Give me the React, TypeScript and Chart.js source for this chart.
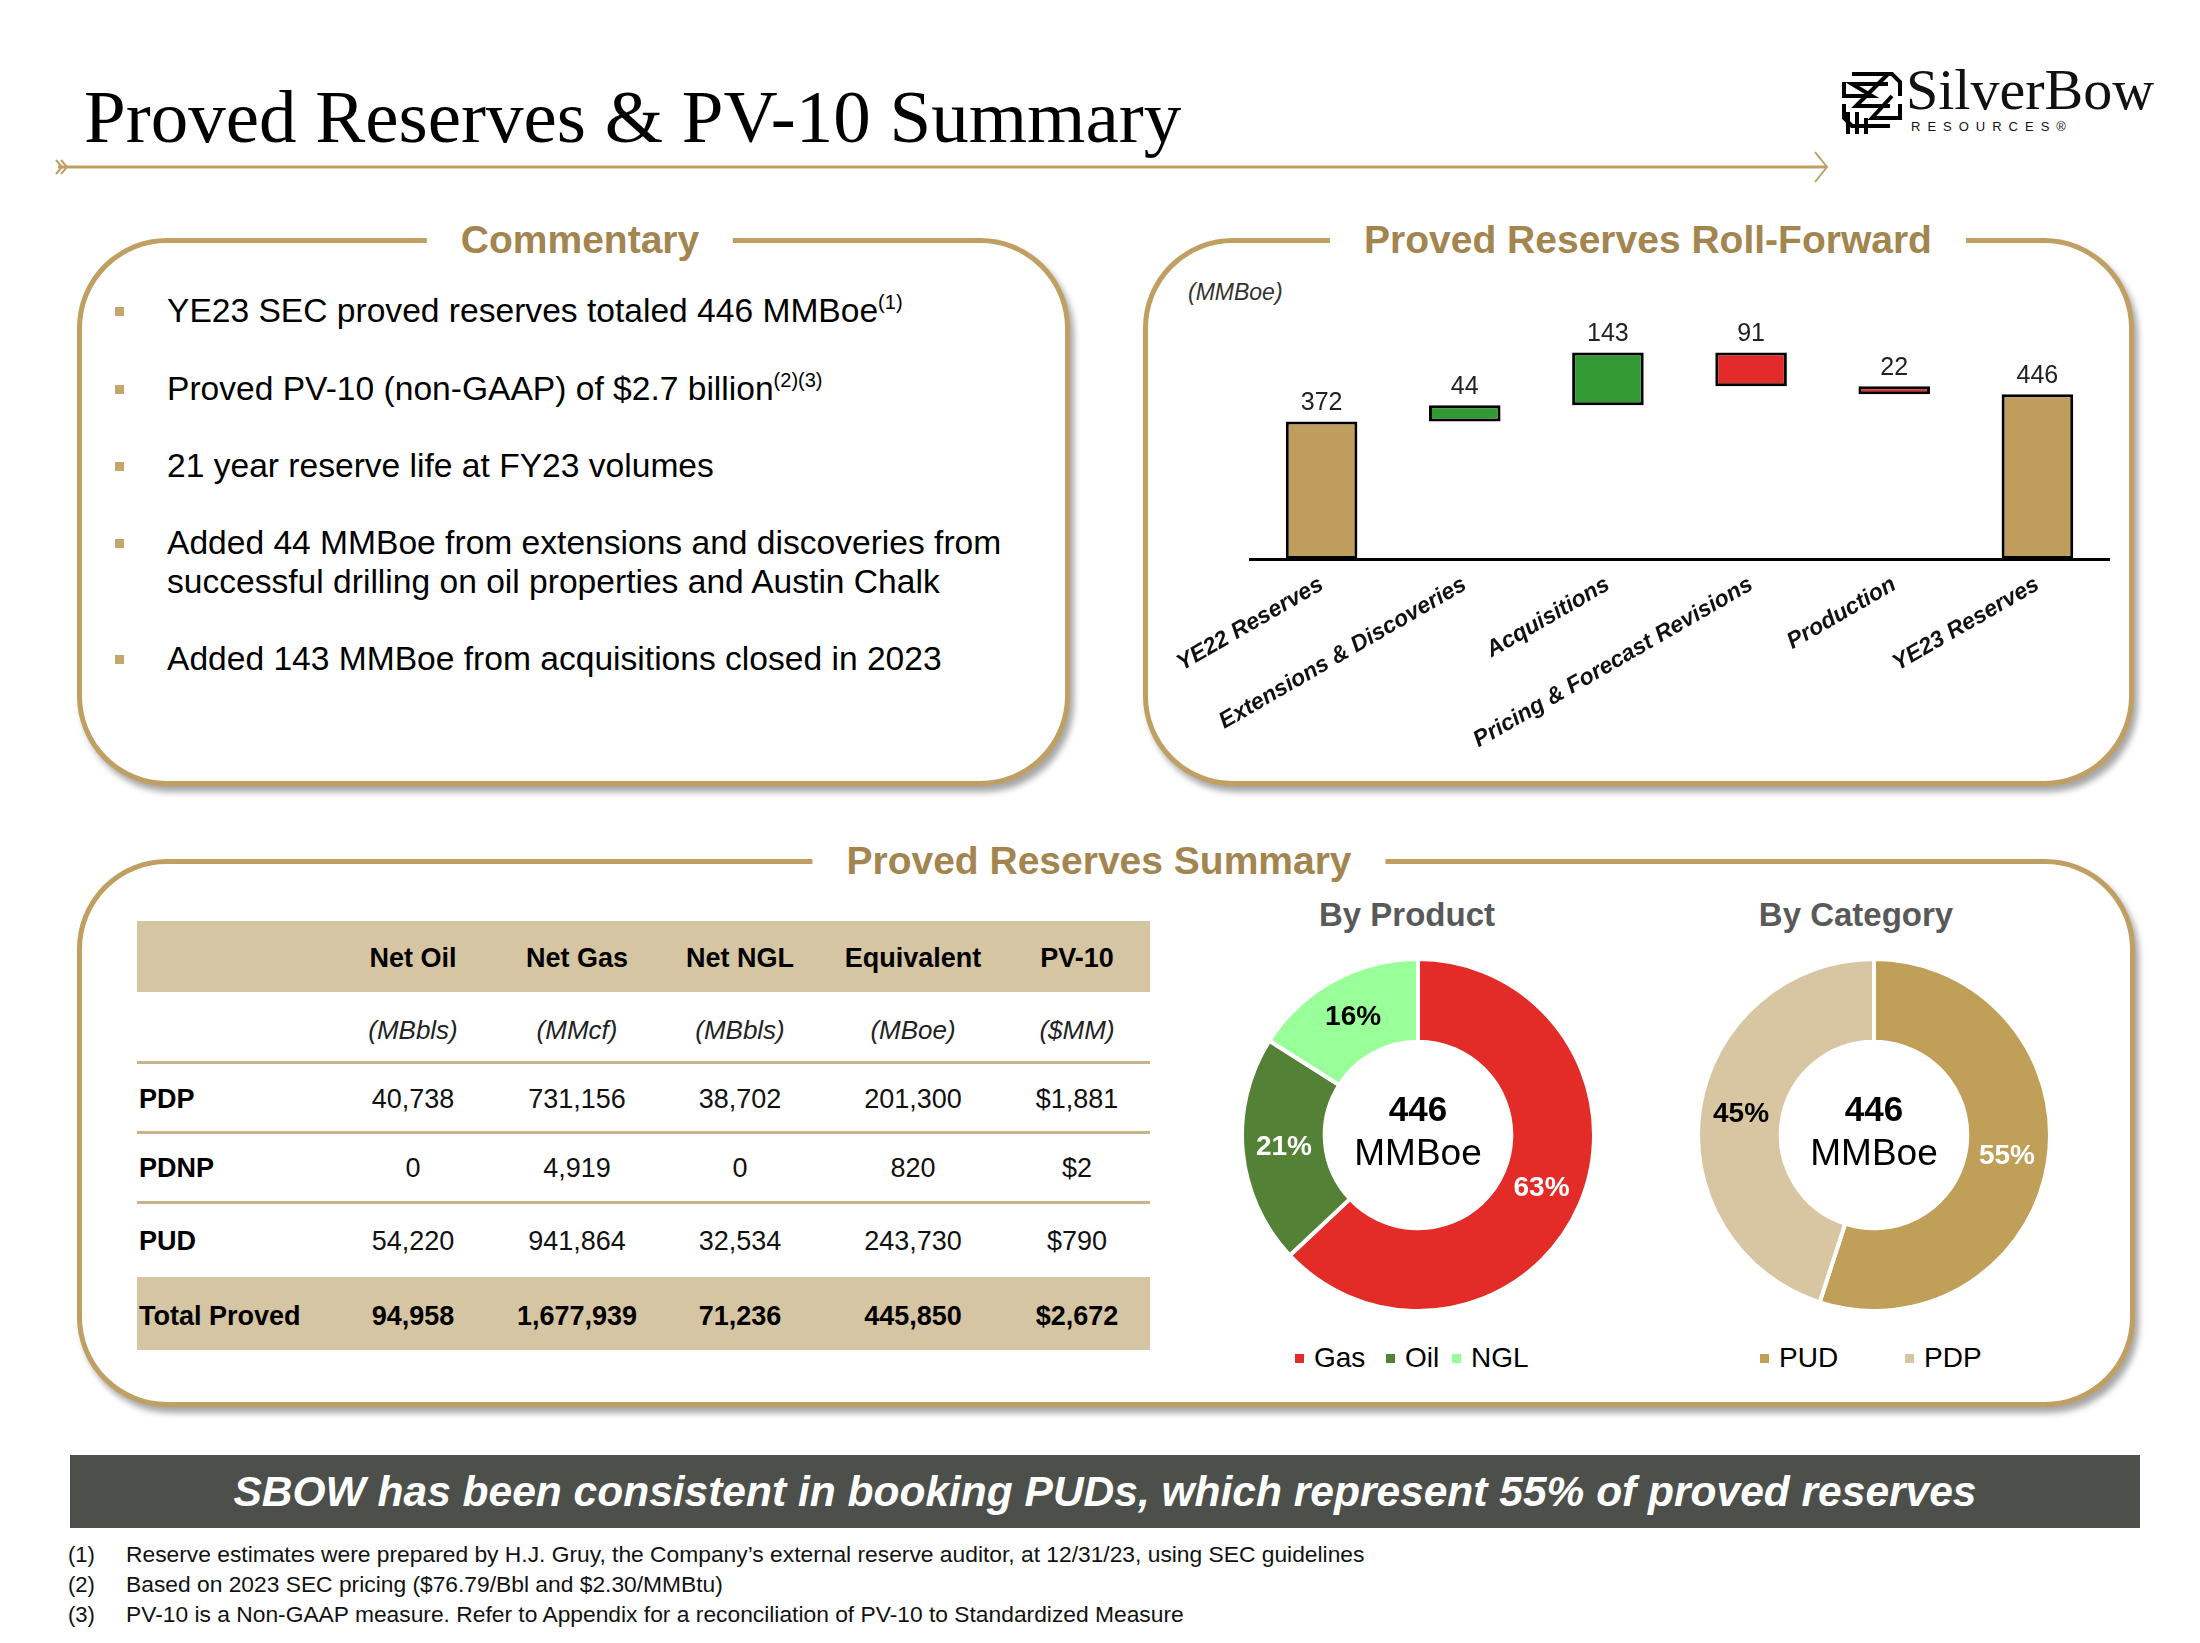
import React, { useEffect, useRef } from "react";
import { Chart, registerables } from "chart.js";

Chart.register(...registerables);

const SANS = '"Liberation Sans", Arial, sans-serif';
const SERIF = '"Liberation Serif", "Times New Roman", serif';
const GOLD = "#C0A062";
const TITLE_GOLD = "#A38550";

// ---------- Roll-forward (waterfall) data ----------
const rollLabels = [
  "YE22 Reserves",
  "Extensions & Discoveries",
  "Acquisitions",
  "Pricing & Forecast Revisions",
  "Production",
  "YE23 Reserves",
];
const rollStart = 372;
const rollChanges = [44, 143, -91, -22];
const rollEnd = 446;
const rollDisplay = ["372", "44", "143", "91", "22", "446"];

// ---------- Donut data ----------
const productLabels = ["Gas", "Oil", "NGL"];
const productShares = [63, 21, 16];
const productColors = ["#E32B27", "#538135", "#99FF99"];
const productLabelColors = ["#FFFFFF", "#FFFFFF", "#000000"];

const categoryLabels = ["PUD", "PDP"];
const categoryShares = [55, 45];
const categoryColors = ["#C09F58", "#D8C6A2"];
const categoryLabelColors = ["#FFFFFF", "#000000"];

const totalMMBoe = "446";

// ---------- Table data ----------
const tableColumns = ["Net Oil", "Net Gas", "Net NGL", "Equivalent", "PV-10"];
const tableUnits = ["(MBbls)", "(MMcf)", "(MBbls)", "(MBoe)", "($MM)"];
const tableRowNames = ["PDP", "PDNP", "PUD"];
const pdpValues = ["40,738", "731,156", "38,702", "201,300", "$1,881"];
const pdnpValues = ["0", "4,919", "0", "820", "$2"];
const pudValues = ["54,220", "941,864", "32,534", "243,730", "$790"];
const totalValues = ["94,958", "1,677,939", "71,236", "445,850", "$2,672"];

const bullets = [
  { text: "YE23 SEC proved reserves totaled 446 MMBoe", sup: "(1)" },
  { text: "Proved PV-10 (non-GAAP) of $2.7 billion", sup: "(2)(3)" },
  { text: "21 year reserve life at FY23 volumes", sup: "" },
  { text: "Added 44 MMBoe from extensions and discoveries from|successful drilling on oil properties and Austin Chalk", sup: "" },
  { text: "Added 143 MMBoe from acquisitions closed in 2023", sup: "" },
];

const footnotes = [
  "Reserve estimates were prepared by H.J. Gruy, the Company\u2019s external reserve auditor, at 12/31/23, using SEC guidelines",
  "Based on 2023 SEC pricing ($76.79/Bbl and $2.30/MMBtu)",
  "PV-10 is a Non-GAAP measure. Refer to Appendix for a reconciliation of PV-10 to Standardized Measure",
];

function Waterfall() {
  const ref = useRef<HTMLCanvasElement>(null);
  useEffect(() => {
    const floats: number[][] = [];
    const colors: string[] = [];
    floats.push([0, rollStart]);
    colors.push("#BF9D5D");
    let level = rollStart;
    rollChanges.forEach((d) => {
      const next = level + d;
      floats.push([Math.min(level, next), Math.max(level, next)]);
      colors.push(d >= 0 ? "#339933" : "#E32B2B");
      level = next;
    });
    floats.push([0, rollEnd]);
    colors.push("#BF9D5D");

    const labelPlugin = {
      id: "wfLabels",
      afterDatasetsDraw(chart: any) {
        const ctx = chart.ctx;
        const meta = chart.getDatasetMeta(0);
        ctx.save();
        ctx.font = `25px ${SANS}`;
        ctx.fillStyle = "#222";
        ctx.textAlign = "center";
        ctx.textBaseline = "bottom";
        meta.data.forEach((el: any, i: number) => {
          const top = Math.min(el.y, el.base);
          ctx.fillText(rollDisplay[i], el.x, top - 6);
        });
        ctx.restore();
      },
    };

    const chart = new Chart(ref.current!, {
      type: "bar",
      data: {
        labels: rollLabels,
        datasets: [
          {
            data: floats as any,
            backgroundColor: colors,
            borderColor: "#000",
            borderWidth: 3,
            borderSkipped: false,
            barPercentage: 0.5,
            categoryPercentage: 1,
          },
        ],
      },
      options: {
        animation: false,
        responsive: false,
        maintainAspectRatio: false,
        layout: { padding: { left: 120, right: 21, top: 40, bottom: 0 } },
        plugins: { legend: { display: false }, tooltip: { enabled: false } },
        scales: {
          x: {
            grid: { display: false, drawTicks: false },
            border: { display: true, color: "#000", width: 3 },
            ticks: {
              autoSkip: false,
              minRotation: 30,
              maxRotation: 30,
              color: "#111",
              padding: 12,
              font: { family: SANS, size: 23, weight: "bold", style: "italic" },
            },
            afterFit: (s: any) => {
              s.height = 211;
            },
          },
          y: { display: false, min: 0, max: 620 },
        },
      },
      plugins: [labelPlugin],
    });
    return () => chart.destroy();
  }, []);
  return (
    <canvas
      ref={ref}
      width={1000}
      height={480}
      style={{ position: "absolute", left: 1130, top: 290, width: 1000, height: 480 }}
    />
  );
}

function Donut(props: {
  labels: string[];
  shares: number[];
  colors: string[];
  labelColors: string[];
  cx: number;
  cy: number;
}) {
  const ref = useRef<HTMLCanvasElement>(null);
  const size = 356;
  useEffect(() => {
    const plugin = {
      id: "donutLabels",
      afterDatasetsDraw(chart: any) {
        const ctx = chart.ctx;
        const meta = chart.getDatasetMeta(0);
        ctx.save();
        ctx.textAlign = "center";
        ctx.textBaseline = "middle";
        ctx.font = `bold 28px ${SANS}`;
        meta.data.forEach((arc: any, i: number) => {
          const p = arc.tooltipPosition();
          ctx.fillStyle = props.labelColors[i];
          ctx.fillText(props.shares[i] + "%", p.x, p.y);
        });
        const cx = (chart.chartArea.left + chart.chartArea.right) / 2;
        const cy = (chart.chartArea.top + chart.chartArea.bottom) / 2;
        ctx.fillStyle = "#000";
        ctx.font = `bold 35px ${SANS}`;
        ctx.fillText(totalMMBoe, cx, cy - 24);
        ctx.font = `37px ${SANS}`;
        ctx.fillText("MMBoe", cx, cy + 20);
        ctx.restore();
      },
    };
    const chart = new Chart(ref.current!, {
      type: "doughnut",
      data: {
        labels: props.labels,
        datasets: [
          {
            data: props.shares,
            backgroundColor: props.colors,
            borderColor: "#fff",
            borderWidth: 4,
          },
        ],
      },
      options: {
        animation: false,
        responsive: false,
        maintainAspectRatio: false,
        cutout: "53%",
        layout: { padding: 0 },
        plugins: { legend: { display: false }, tooltip: { enabled: false } },
      },
      plugins: [plugin],
    });
    return () => chart.destroy();
  }, []);
  return (
    <canvas
      ref={ref}
      width={size}
      height={size}
      style={{ position: "absolute", left: props.cx - size / 2, top: props.cy - size / 2, width: size, height: size }}
    />
  );
}

function Box(props: { left: number; top: number; right: number; bottom: number; title: string; titleX: number }) {
  const { left, top, right, bottom, title, titleX } = props;
  return (
    <>
      <div
        style={{
          position: "absolute",
          left,
          top,
          width: right - left,
          height: bottom - top,
          boxSizing: "border-box",
          border: `5px solid ${GOLD}`,
          borderRadius: 90,
          boxShadow: "4px 6px 6px rgba(0,0,0,0.35)",
          background: "#fff",
        }}
      />
      <div
        style={{
          position: "absolute",
          left: titleX,
          top: top + 2,
          transform: "translate(-50%, -50%)",
          background: "#fff",
          padding: "0 34px",
          color: TITLE_GOLD,
          fontFamily: SANS,
          fontWeight: "bold",
          fontSize: 39,
          whiteSpace: "nowrap",
          lineHeight: "48px",
        }}
      >
        {title}
      </div>
    </>
  );
}

const colCenters = [413, 577, 740, 913, 1077];

function TableRow(props: { cy: number; name: string; values: string[]; bold?: boolean; italic?: boolean; color?: string }) {
  const { cy, name, values, bold, italic } = props;
  return (
    <>
      <div
        style={{
          position: "absolute",
          left: 139,
          top: cy - 18,
          lineHeight: "36px",
          fontSize: 27,
          fontWeight: "bold",
          color: "#000",
          whiteSpace: "nowrap",
        }}
      >
        {name}
      </div>
      {values.map((v, i) => (
        <div
          key={i}
          style={{
            position: "absolute",
            left: colCenters[i] - 100,
            width: 200,
            top: cy - 18,
            lineHeight: "36px",
            textAlign: "center",
            fontSize: italic ? 26 : 27,
            fontWeight: bold ? "bold" : "normal",
            fontStyle: italic ? "italic" : "normal",
            color: props.color || "#111",
            whiteSpace: "nowrap",
          }}
        >
          {v}
        </div>
      ))}
    </>
  );
}

function LegendItem(props: { color: string; text: string; x: number }) {
  return (
    <div
      style={{
        position: "absolute",
        left: props.x,
        top: 1340,
        height: 36,
        display: "flex",
        alignItems: "center",
        fontSize: 28,
        color: "#000",
        whiteSpace: "nowrap",
      }}
    >
      <span style={{ display: "inline-block", width: 9, height: 9, background: props.color, marginRight: 10 }} />
      {props.text}
    </div>
  );
}

export default function App() {
  return (
    <div
      style={{
        position: "absolute",
        left: 0,
        top: 0,
        width: 2200,
        height: 1643,
        background: "#fff",
        fontFamily: SANS,
        overflow: "hidden",
      }}
    >
      {/* Title */}
      <div
        style={{
          position: "absolute",
          left: 84,
          top: 72,
          fontFamily: SERIF,
          fontSize: 75,
          lineHeight: "90px",
          color: "#000",
          whiteSpace: "nowrap",
        }}
      >
        Proved Reserves &amp; PV-10 Summary
      </div>

      {/* Header rule with chevrons */}
      <svg style={{ position: "absolute", left: 0, top: 0 }} width={2200} height={220}>
        <line x1={58} y1={167} x2={1826} y2={167} stroke={GOLD} strokeWidth={3} />
        <polyline points="56,160 62,167 56,174" fill="none" stroke={GOLD} strokeWidth={2} />
        <polyline points="61,160 67,167 61,174" fill="none" stroke={GOLD} strokeWidth={2} />
        <polyline points="1815,152 1827,167 1815,182" fill="none" stroke={GOLD} strokeWidth={2} />
        {/* logo icon */}
        <g fill="none" stroke="#000" strokeWidth={4} strokeLinejoin="miter">
          <polyline points="1852,74 1892,74 1900,82 1900,96" />
          <polyline points="1844,82 1844,96 1872,96 1852,84 1888,84" />
          <polyline points="1888,74 1856,106 1890,106" />
          <polyline points="1900,104 1900,118 1872,118 1892,96" />
          <polyline points="1844,104 1844,118 1852,126 1890,126" />
          <line x1={1848} y1={112} x2={1848} y2={134} />
          <line x1={1857} y1={112} x2={1857} y2={134} />
          <line x1={1866} y1={118} x2={1866} y2={134} />
        </g>
      </svg>
      <div
        style={{
          position: "absolute",
          left: 1906,
          top: 62,
          fontFamily: SERIF,
          fontSize: 58,
          lineHeight: "56px",
          color: "#111",
          whiteSpace: "nowrap",
        }}
      >
        SilverBow
      </div>
      <div
        style={{
          position: "absolute",
          left: 1911,
          top: 119,
          fontFamily: SANS,
          fontSize: 13,
          letterSpacing: 7,
          lineHeight: "15px",
          color: "#111",
          whiteSpace: "nowrap",
        }}
      >
        RESOURCES®
      </div>

      {/* Boxes */}
      <Box left={77} top={238} right={1070} bottom={786} title="Commentary" titleX={580} />
      <Box left={1143} top={238} right={2134} bottom={786} title="Proved Reserves Roll-Forward" titleX={1648} />
      <Box left={77} top={859} right={2135} bottom={1407} title="Proved Reserves Summary" titleX={1099} />

      {/* Commentary bullets */}
      {bullets.map((b, i) => {
        const centers = [311, 389, 466, 543, 659];
        const lines = b.text.split("|");
        return (
          <React.Fragment key={i}>
            <div
              style={{
                position: "absolute",
                left: 115,
                top: centers[i] - 4,
                width: 9,
                height: 9,
                background: "#C4A56A",
              }}
            />
            <div
              style={{
                position: "absolute",
                left: 167,
                top: centers[i] - 20,
                fontSize: 33.6,
                lineHeight: "39px",
                color: "#000",
                whiteSpace: "nowrap",
              }}
            >
              {lines.map((l, j) => (
                <div key={j}>
                  {l}
                  {j === lines.length - 1 && b.sup ? (
                    <span style={{ fontSize: 20, position: "relative", top: -13 }}>{b.sup}</span>
                  ) : null}
                </div>
              ))}
            </div>
          </React.Fragment>
        );
      })}

      {/* Roll-forward chart */}
      <div
        style={{
          position: "absolute",
          left: 1188,
          top: 278,
          fontSize: 23,
          fontStyle: "italic",
          color: "#333",
          lineHeight: "28px",
        }}
      >
        (MMBoe)
      </div>
      <Waterfall />

      {/* Table */}
      <div style={{ position: "absolute", left: 137, top: 921, width: 1013, height: 71, background: "#D5C5A3" }} />
      <div style={{ position: "absolute", left: 137, top: 1277, width: 1013, height: 73, background: "#D5C5A3" }} />
      {[1061, 1131, 1201].map((y, i) => (
        <div key={i} style={{ position: "absolute", left: 137, top: y, width: 1013, height: 3, background: "#C9B48A" }} />
      ))}
      <TableRow cy={958} name="" values={tableColumns} bold color="#000" />
      <TableRow cy={1030} name="" values={tableUnits} italic color="#222" />
      <TableRow cy={1099} name={tableRowNames[0]} values={pdpValues} />
      <TableRow cy={1168} name={tableRowNames[1]} values={pdnpValues} />
      <TableRow cy={1241} name={tableRowNames[2]} values={pudValues} />
      <TableRow cy={1316} name="Total Proved" values={totalValues} bold color="#000" />

      {/* Donut titles */}
      <div
        style={{
          position: "absolute",
          left: 1407 - 150,
          width: 300,
          top: 895,
          textAlign: "center",
          fontSize: 33,
          fontWeight: "bold",
          color: "#595959",
          lineHeight: "40px",
        }}
      >
        By Product
      </div>
      <div
        style={{
          position: "absolute",
          left: 1856 - 150,
          width: 300,
          top: 895,
          textAlign: "center",
          fontSize: 33,
          fontWeight: "bold",
          color: "#595959",
          lineHeight: "40px",
        }}
      >
        By Category
      </div>

      <Donut labels={productLabels} shares={productShares} colors={productColors} labelColors={productLabelColors} cx={1418} cy={1135} />
      <Donut labels={categoryLabels} shares={categoryShares} colors={categoryColors} labelColors={categoryLabelColors} cx={1874} cy={1135} />

      {/* Legends */}
      <LegendItem color={productColors[0]} text={productLabels[0]} x={1295} />
      <LegendItem color={productColors[1]} text={productLabels[1]} x={1386} />
      <LegendItem color={productColors[2]} text={productLabels[2]} x={1452} />
      <LegendItem color={categoryColors[0]} text={categoryLabels[0]} x={1760} />
      <LegendItem color={categoryColors[1]} text={categoryLabels[1]} x={1905} />

      {/* Banner */}
      <div
        style={{
          position: "absolute",
          left: 70,
          top: 1455,
          width: 2070,
          height: 73,
          background: "#4D4F4A",
          color: "#fff",
          fontWeight: "bold",
          fontStyle: "italic",
          fontSize: 42.5,
          lineHeight: "73px",
          textAlign: "center",
          whiteSpace: "nowrap",
        }}
      >
        SBOW has been consistent in booking PUDs, which represent 55% of proved reserves
      </div>

      {/* Footnotes */}
      {footnotes.map((f, i) => (
        <React.Fragment key={i}>
          <div
            style={{
              position: "absolute",
              left: 68,
              top: 1541 + i * 30,
              fontSize: 22,
              lineHeight: "27px",
              color: "#111",
            }}
          >
            ({i + 1})
          </div>
          <div
            style={{
              position: "absolute",
              left: 126,
              top: 1541 + i * 30,
              fontSize: 22.8,
              lineHeight: "27px",
              color: "#111",
              whiteSpace: "nowrap",
            }}
          >
            {f}
          </div>
        </React.Fragment>
      ))}
    </div>
  );
}
